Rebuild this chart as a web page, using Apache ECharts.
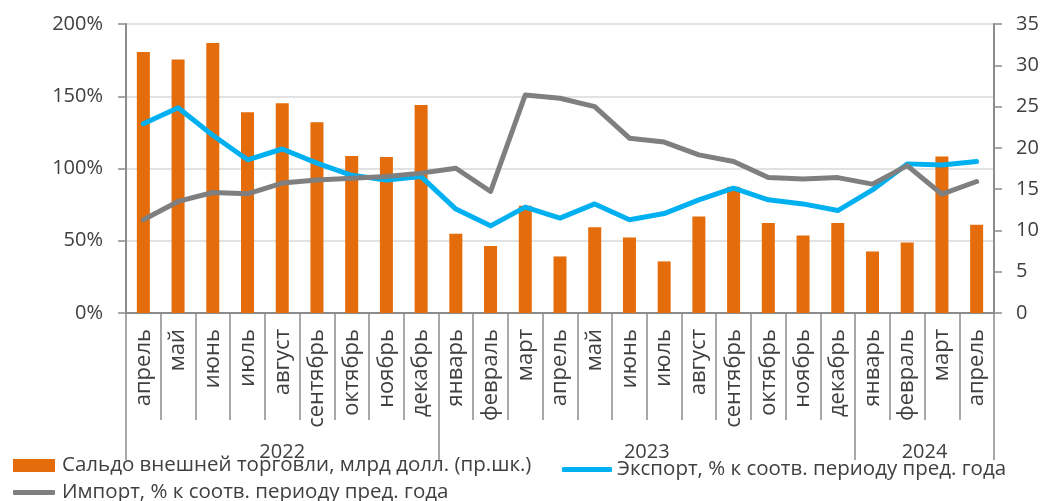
<!DOCTYPE html>
<html>
<head>
<meta charset="utf-8">
<script src="https://cdn.jsdelivr.net/npm/echarts@6/dist/echarts.min.js"></script>
<style>
  html, body { margin: 0; padding: 0; background: #ffffff; }
  #chart { width: 1042px; height: 501px; }
</style>
</head>
<body>
<div id="chart"></div>
<script>
// ---- Data ----
const months = ['апрель','май','июнь','июль','август','сентябрь','октябрь','ноябрь','декабрь',
  'январь','февраль','март','апрель','май','июнь','июль','август','сентябрь','октябрь','ноябрь','декабрь',
  'январь','февраль','март','апрель'];
const yearLabels = ['2022','2023','2024'];
const yearStarts = [0, 9, 21, 25];

const balance = [31.6, 30.7, 32.7, 24.3, 25.4, 23.1, 19.0, 18.9, 25.2,
  9.6, 8.1, 13.0, 6.85, 10.4, 9.15, 6.25, 11.7, 15.3, 10.9, 9.4, 10.9,
  7.45, 8.55, 18.95, 10.7];
const exportPct = [131, 142, 123, 106, 113.5, 103.7, 95.3, 92, 94.4,
  71.9, 60.3, 73.3, 65.7, 75.5, 64.5, 68.8, 78.3, 86.4, 78.3, 75.5, 70.9,
  85.2, 103.2, 102.5, 104.8];
const importPct = [64.5, 77.2, 83.4, 82.5, 89.9, 92.1, 93.3, 94.4, 96.8,
  100.2, 84.1, 150.9, 148.6, 142.8, 121, 118.3, 109.4, 104.8, 93.7, 92.8, 93.7,
  89.2, 102, 82.2, 91];

const seriesNames = ['Сальдо внешней торговли, млрд долл. (пр.шк.)',
  'Экспорт, % к соотв. периоду пред. года',
  'Импорт, % к соотв. периоду пред. года'];

const leftTicks = { min: 0, max: 200, interval: 50 };
const rightTicks = { min: 0, max: 35, interval: 5 };

// ---- Derived ----
const yearMid = yearLabels.map((y, i) => (yearStarts[i] + yearStarts[i + 1]) / 2);

const FONT = 'Open Sans';
const TXT = '#404040';
const AX = '#8c8c8c';

const chart = echarts.init(document.getElementById('chart'), null, { renderer: 'canvas' });
chart.setOption({
  animation: false,
  backgroundColor: '#ffffff',
  textStyle: { fontFamily: FONT },
  grid: { left: 126, right: 48, top: 24, bottom: 188, containLabel: false },
  legend: [
    { data: [seriesNames[0]], left: 13, top: 455, itemWidth: 42, itemHeight: 13, itemGap: 0,
      icon: 'rect', padding: 0,
      textStyle: { fontFamily: FONT, fontSize: 20.5, color: TXT, padding: [0, 0, 0, 2] } },
    { data: [seriesNames[1]], left: 562, top: 455, itemWidth: 50, itemHeight: 5, itemGap: 0,
      icon: 'roundRect', padding: [4, 0, 0, 0],
      textStyle: { fontFamily: FONT, fontSize: 20.5, color: TXT, padding: [0, 0, 0, 0] } },
    { data: [seriesNames[2]], left: 13, top: 478, itemWidth: 42, itemHeight: 5, itemGap: 0,
      icon: 'roundRect', padding: [4, 0, 0, 0],
      textStyle: { fontFamily: FONT, fontSize: 20.5, color: TXT, padding: [0, 0, 0, 2] } }
  ],
  xAxis: [
    {
      type: 'category', data: months, boundaryGap: true, position: 'bottom',
      axisLine: { show: true, lineStyle: { color: AX, width: 2 } },
      axisTick: { show: true, interval: 0, length: 107, lineStyle: { color: AX, width: 1.5 } },
      axisLabel: { interval: 0, rotate: 90, margin: 16, fontSize: 22, color: TXT, fontFamily: FONT },
      splitLine: { show: false }
    },
    {
      type: 'value', min: 0, max: months.length, position: 'bottom',
      axisLine: { show: false },
      axisTick: { show: true, customValues: yearStarts, length: 147, lineStyle: { color: AX, width: 1.5 } },
      axisLabel: {
        show: true, customValues: yearMid, margin: 129, fontSize: 20, color: TXT, fontFamily: FONT,
        formatter: function (v) { const i = yearMid.indexOf(v); return i >= 0 ? yearLabels[i] : ''; }
      },
      splitLine: { show: false }
    }
  ],
  yAxis: [
    {
      type: 'value', position: 'left', min: leftTicks.min, max: leftTicks.max, interval: leftTicks.interval,
      axisLine: { show: true, lineStyle: { color: AX, width: 2 } },
      axisTick: { show: true, inside: false, length: 8, lineStyle: { color: AX, width: 1.5 } },
      axisLabel: { formatter: '{value}%', fontSize: 20, color: TXT, margin: 23, fontFamily: FONT },
      splitLine: { show: true, lineStyle: { color: '#d9d9d9', width: 1.5 } }
    },
    {
      type: 'value', position: 'right', min: rightTicks.min, max: rightTicks.max, interval: rightTicks.interval,
      axisLine: { show: true, lineStyle: { color: AX, width: 2 } },
      axisTick: { show: true, inside: false, length: 8, lineStyle: { color: AX, width: 1.5 } },
      axisLabel: { fontSize: 20, color: TXT, margin: 22, fontFamily: FONT },
      splitLine: { show: false }
    }
  ],
  series: [
    {
      name: seriesNames[0], type: 'bar', xAxisIndex: 0, yAxisIndex: 1, data: balance,
      barWidth: 13, itemStyle: { color: '#e46c0a' }
    },
    {
      name: seriesNames[1], type: 'line', xAxisIndex: 0, yAxisIndex: 0, data: exportPct,
      symbol: 'none', lineStyle: { color: '#00b0f0', width: 5, join: 'round', cap: 'round' },
      itemStyle: { color: '#00b0f0' }
    },
    {
      name: seriesNames[2], type: 'line', xAxisIndex: 0, yAxisIndex: 0, data: importPct,
      symbol: 'none', lineStyle: { color: '#7f7f7f', width: 5, join: 'round', cap: 'round' },
      itemStyle: { color: '#7f7f7f' }
    }
  ]
});
</script>
</body>
</html>
